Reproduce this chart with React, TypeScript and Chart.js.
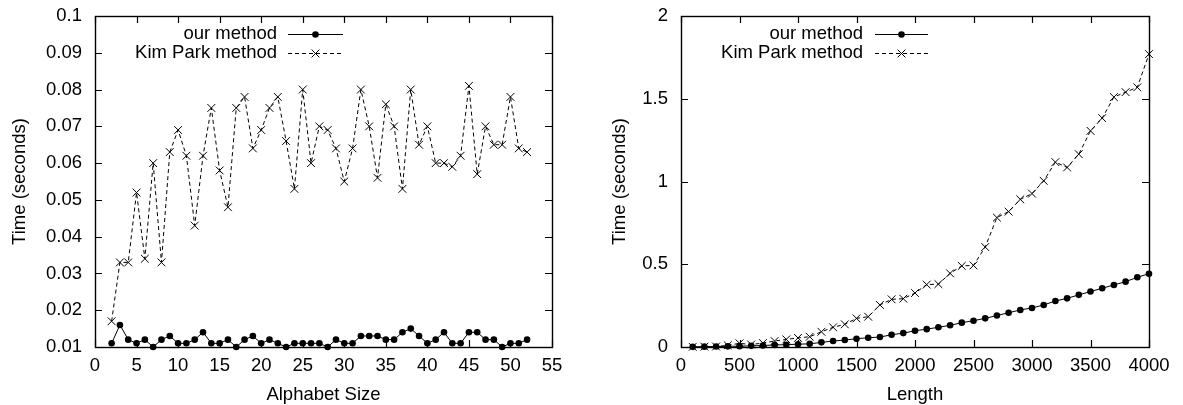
import React, { useEffect, useRef } from 'react';
import { Chart, registerables } from 'chart.js';

Chart.register(...registerables);

// ---------- data ----------
const seriesNames = ['our method', 'Kim Park method'];

const alphabetSizes = [2, 3, 4, 5, 6, 7, 8, 9, 10, 11, 12, 13, 14, 15, 16, 17, 18, 19, 20, 21, 22, 23, 24, 25, 26, 27, 28, 29, 30, 31, 32, 33, 34, 35, 36, 37, 38, 39, 40, 41, 42, 43, 44, 45, 46, 47, 48, 49, 50, 51, 52];
const alphabetOurMethod = [0.011, 0.016, 0.012, 0.011, 0.012, 0.010, 0.012, 0.013, 0.011, 0.011, 0.012, 0.014, 0.011, 0.011, 0.012, 0.010, 0.012, 0.013, 0.011, 0.012, 0.011, 0.010, 0.011, 0.011, 0.011, 0.011, 0.010, 0.012, 0.011, 0.011, 0.013, 0.013, 0.013, 0.012, 0.012, 0.014, 0.015, 0.013, 0.011, 0.012, 0.014, 0.011, 0.011, 0.014, 0.014, 0.012, 0.012, 0.010, 0.011, 0.011, 0.012];
const alphabetKimPark = [0.017, 0.033, 0.033, 0.052, 0.034, 0.060, 0.033, 0.063, 0.069, 0.062, 0.043, 0.062, 0.075, 0.058, 0.048, 0.075, 0.078, 0.064, 0.069, 0.075, 0.078, 0.066, 0.053, 0.080, 0.060, 0.070, 0.069, 0.064, 0.055, 0.064, 0.080, 0.070, 0.056, 0.076, 0.070, 0.053, 0.080, 0.065, 0.070, 0.060, 0.060, 0.059, 0.062, 0.081, 0.057, 0.070, 0.065, 0.065, 0.078, 0.064, 0.063];
const alphabetXTicks = [0, 5, 10, 15, 20, 25, 30, 35, 40, 45, 50, 55];
const alphabetYTicks = [0.01, 0.02, 0.03, 0.04, 0.05, 0.06, 0.07, 0.08, 0.09, 0.1];

const lengths = [100, 200, 300, 400, 500, 600, 700, 800, 900, 1000, 1100, 1200, 1300, 1400, 1500, 1600, 1700, 1800, 1900, 2000, 2100, 2200, 2300, 2400, 2500, 2600, 2700, 2800, 2900, 3000, 3100, 3200, 3300, 3400, 3500, 3600, 3700, 3800, 3900, 4000];
const lengthOurMethod = [0.001, 0.002, 0.003, 0.004, 0.005, 0.007, 0.009, 0.012, 0.014, 0.017, 0.019, 0.028, 0.036, 0.042, 0.050, 0.056, 0.060, 0.074, 0.084, 0.098, 0.108, 0.119, 0.131, 0.147, 0.159, 0.173, 0.190, 0.207, 0.224, 0.236, 0.254, 0.278, 0.294, 0.315, 0.335, 0.355, 0.375, 0.395, 0.421, 0.443];
const lengthKimPark = [0.001, 0.002, 0.003, 0.010, 0.022, 0.015, 0.024, 0.036, 0.046, 0.055, 0.062, 0.092, 0.119, 0.137, 0.173, 0.183, 0.254, 0.288, 0.292, 0.326, 0.377, 0.380, 0.445, 0.490, 0.493, 0.604, 0.782, 0.818, 0.892, 0.927, 1.004, 1.117, 1.085, 1.165, 1.306, 1.383, 1.510, 1.540, 1.569, 1.770];
const lengthXTicks = [0, 500, 1000, 1500, 2000, 2500, 3000, 3500, 4000];
const lengthYTicks = [0, 0.5, 1, 1.5, 2];

// ---------- styling ----------
const FONT_SIZE = 18.5;
const FONT = { family: '"Liberation Sans", Arial, sans-serif', size: FONT_SIZE };
const FONT_CSS = `${FONT_SIZE}px "Liberation Sans", Arial, sans-serif`;
const TICK_LEN = 7;
const CANVAS_H = 405;

function drawMarker(ctx: CanvasRenderingContext2D, style: string, x: number, y: number) {
  ctx.save();
  ctx.setLineDash([]);
  ctx.fillStyle = '#000';
  ctx.strokeStyle = '#000';
  ctx.lineWidth = 1;
  if (style === 'circle') {
    ctx.beginPath();
    ctx.arc(x, y, 3.3, 0, Math.PI * 2);
    ctx.fill();
  } else {
    const r = 3.9;
    ctx.beginPath();
    ctx.moveTo(x - r, y - r);
    ctx.lineTo(x + r, y + r);
    ctx.moveTo(x + r, y - r);
    ctx.lineTo(x - r, y + r);
    ctx.stroke();
  }
  ctx.restore();
}

const framePlugin = {
  id: 'gnuplotFrame',
  afterDraw(chart: any) {
    const { ctx, chartArea } = chart;
    const { left, right, top, bottom } = chartArea;
    const xs = chart.scales.x;
    const ys = chart.scales.y;
    ctx.save();
    ctx.strokeStyle = '#000';
    ctx.lineWidth = 1.4;
    ctx.setLineDash([]);
    // box
    ctx.strokeRect(Math.round(left) + 0.5, Math.round(top) + 0.5, Math.round(right - left), Math.round(bottom - top));
    // inward ticks
    ctx.lineWidth = 1.2;
    ctx.beginPath();
    for (const t of xs.ticks) {
      const px = Math.round(xs.getPixelForValue(t.value)) + 0.5;
      ctx.moveTo(px, bottom);
      ctx.lineTo(px, bottom - TICK_LEN);
      ctx.moveTo(px, top);
      ctx.lineTo(px, top + TICK_LEN);
    }
    for (const t of ys.ticks) {
      const py = Math.round(ys.getPixelForValue(t.value)) + 0.5;
      ctx.moveTo(left, py);
      ctx.lineTo(left + TICK_LEN, py);
      ctx.moveTo(right, py);
      ctx.lineTo(right - TICK_LEN, py);
    }
    ctx.stroke();

    // legend (gnuplot style: text, then sample)
    const lg = chart.options.plugins.gnuplotFrame.legend;
    const rows = [34, 53];
    ctx.font = FONT_CSS;
    ctx.fillStyle = '#000';
    ctx.textAlign = 'right';
    ctx.textBaseline = 'middle';
    chart.data.datasets.forEach((ds: any, i: number) => {
      const y = rows[i];
      ctx.fillText(ds.label, lg.textRight, y);
      ctx.save();
      ctx.lineWidth = 1;
      ctx.setLineDash(ds.borderDash || []);
      ctx.beginPath();
      ctx.moveTo(lg.lineStart, y + 0.5);
      ctx.lineTo(lg.lineEnd, y + 0.5);
      ctx.stroke();
      ctx.restore();
      drawMarker(ctx, ds.pointStyle, (lg.lineStart + lg.lineEnd) / 2, y + 0.5);
    });
    ctx.restore();
  },
};

type PanelOpts = {
  xs: number[];
  our: number[];
  kim: number[];
  xTicks: number[];
  yTicks: number[];
  xTitle: string;
  yTitle: string;
  yAxisWidth: number;
  rightPad: number;
  yTickPad: number;
  yTitlePad: number;
  legend: { textRight: number; lineStart: number; lineEnd: number };
};

function buildConfig(p: PanelOpts): any {
  return {
    type: 'line',
    data: {
      datasets: [
        {
          label: seriesNames[0],
          data: p.xs.map((x, i) => ({ x, y: p.our[i] })),
          borderColor: '#000',
          backgroundColor: '#000',
          borderWidth: 1,
          pointStyle: 'circle',
          pointRadius: 3.3,
          pointBorderWidth: 0,
          pointBackgroundColor: '#000',
          tension: 0,
          clip: false,
        },
        {
          label: seriesNames[1],
          data: p.xs.map((x, i) => ({ x, y: p.kim[i] })),
          borderColor: '#000',
          backgroundColor: '#000',
          borderWidth: 1,
          borderDash: [4, 3],
          pointStyle: 'crossRot',
          pointRadius: 5.5,
          pointBorderWidth: 1,
          pointBorderColor: '#000',
          tension: 0,
          clip: false,
        },
      ],
    },
    options: {
      animation: false,
      responsive: false,
      maintainAspectRatio: false,
      events: [],
      layout: { padding: { top: 16, right: p.rightPad, left: 0, bottom: 0 } },
      plugins: {
        legend: { display: false },
        tooltip: { enabled: false },
        gnuplotFrame: { legend: p.legend },
      },
      scales: {
        x: {
          type: 'linear',
          min: p.xTicks[0],
          max: p.xTicks[p.xTicks.length - 1],
          afterBuildTicks: (s: any) => {
            s.ticks = p.xTicks.map((v) => ({ value: v }));
          },
          afterFit: (s: any) => {
            s.height = 58;
            s.paddingLeft = 0;
            s.paddingRight = 0;
          },
          grid: { display: false, drawTicks: false },
          border: { display: false },
          ticks: {
            font: FONT,
            color: '#000',
            padding: 8,
            maxRotation: 0,
            autoSkip: false,
            callback: (v: any) => String(v),
          },
          title: {
            display: true,
            text: p.xTitle,
            font: FONT,
            color: '#000',
            padding: { top: 0, bottom: -1 },
          },
        },
        y: {
          type: 'linear',
          min: p.yTicks[0],
          max: p.yTicks[p.yTicks.length - 1],
          afterBuildTicks: (s: any) => {
            s.ticks = p.yTicks.map((v) => ({ value: v }));
          },
          afterFit: (s: any) => {
            s.width = p.yAxisWidth;
            s.paddingTop = 0;
            s.paddingBottom = 0;
          },
          grid: { display: false, drawTicks: false },
          border: { display: false },
          ticks: {
            font: FONT,
            color: '#000',
            padding: p.yTickPad,
            autoSkip: false,
            callback: (v: any) => String(v),
          },
          title: {
            display: true,
            text: p.yTitle,
            font: FONT,
            color: '#000',
            padding: { top: p.yTitlePad, bottom: 0 },
          },
        },
      },
    },
    plugins: [framePlugin],
  };
}

function Panel({ left, width, opts }: { left: number; width: number; opts: PanelOpts }) {
  const ref = useRef<HTMLCanvasElement>(null);
  useEffect(() => {
    const chart = new Chart(ref.current as HTMLCanvasElement, buildConfig(opts));
    return () => chart.destroy();
  }, []);
  return (
    <div style={{ position: 'absolute', left, top: 0, width, height: CANVAS_H }}>
      <canvas ref={ref} width={width} height={CANVAS_H} style={{ display: 'block' }} />
    </div>
  );
}

export default function App() {
  return (
    <div style={{ position: 'absolute', left: 0, top: 0, width: 1183, height: 405, background: '#fff' }}>
      <Panel
        left={0}
        width={600}
        opts={{
          xs: alphabetSizes,
          our: alphabetOurMethod,
          kim: alphabetKimPark,
          xTicks: alphabetXTicks,
          yTicks: alphabetYTicks,
          xTitle: 'Alphabet Size',
          yTitle: 'Time (seconds)',
          yAxisWidth: 95,
          rightPad: 48,
          yTickPad: 13,
          yTitlePad: 8.5,
          legend: { textRight: 277, lineStart: 288, lineEnd: 343 },
        }}
      />
      <Panel
        left={600}
        width={583}
        opts={{
          xs: lengths,
          our: lengthOurMethod,
          kim: lengthKimPark,
          xTicks: lengthXTicks,
          yTicks: lengthYTicks,
          xTitle: 'Length',
          yTitle: 'Time (seconds)',
          yAxisWidth: 81,
          rightPad: 34,
          yTickPad: 13,
          yTitlePad: 8.5,
          legend: { textRight: 263, lineStart: 275, lineEnd: 328 },
        }}
      />
    </div>
  );
}
